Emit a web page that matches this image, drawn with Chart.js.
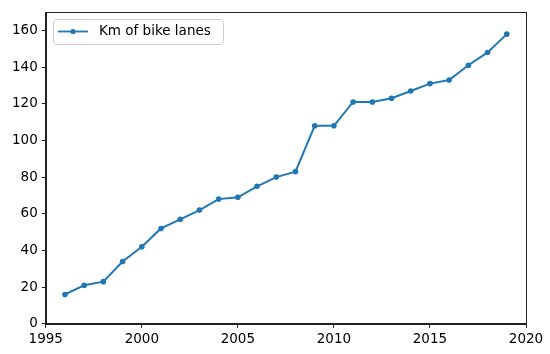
<!DOCTYPE html>
<html><head><meta charset="utf-8">
<script src="https://cdn.jsdelivr.net/npm/chart.js@4/dist/chart.umd.min.js"></script>
<style>html,body{margin:0;padding:0;background:#fff}canvas{display:block}</style>
</head><body>
<canvas id="c" width="550" height="354"></canvas>
<script>
const years = [1996,1997,1998,1999,2000,2001,2002,2003,2004,2005,2006,2007,2008,2009,2010,2011,2012,2013,2014,2015,2016,2017,2018,2019];
const kmBikeLanes = [16,21,23,34,42,52,57,62,68,69,75,80,83,108,108,121,121,123,127,131,133,141,148,158];
const seriesLabel = 'Km of bike lanes';
const xTicks = [1995,2000,2005,2010,2015,2020];
const yTicks = [0,20,40,60,80,100,120,140,160];

const FONT = "'DejaVu Sans', sans-serif";
const BLUE = '#1f77b4';

const framePlugin = {
  id: 'frame',
  afterDraw(chart) {
    const {ctx, chartArea: a} = chart;
    ctx.save();
    ctx.strokeStyle = '#222';
    ctx.lineWidth = 1;
    ctx.strokeRect(Math.round(a.left)+0.5, Math.round(a.top)+0.5, Math.round(a.right-a.left), Math.round(a.bottom-a.top));
    // legend inside
    const x0 = Math.round(a.left) + 7, y0 = Math.round(a.top) + 7;
    ctx.font = '13.5px ' + FONT;
    const w = 170, h = 25;
    ctx.fillStyle = 'rgba(255,255,255,0.8)';
    ctx.strokeStyle = '#cccccc';
    ctx.beginPath();
    if (ctx.roundRect) ctx.roundRect(x0+0.5, y0+0.5, w, h, 3); else ctx.rect(x0+0.5,y0+0.5,w,h);
    ctx.fill(); ctx.stroke();
    const ly = y0 + 12.5;
    ctx.strokeStyle = BLUE; ctx.lineWidth = 1.8;
    ctx.beginPath(); ctx.moveTo(x0+5, ly); ctx.lineTo(x0+35, ly); ctx.stroke();
    ctx.fillStyle = BLUE;
    ctx.beginPath(); ctx.arc(x0+20, ly, 2.6, 0, Math.PI*2); ctx.fill();
    ctx.fillStyle = '#000';
    ctx.textBaseline = 'middle';
    ctx.fillText(seriesLabel, x0+46, ly);
    ctx.restore();
  }
};

new Chart(document.getElementById('c'), {
  type: 'line',
  data: {
    datasets: [{
      label: seriesLabel,
      data: years.map((y,i)=>({x:y, y:kmBikeLanes[i]})),
      borderColor: BLUE,
      backgroundColor: BLUE,
      borderWidth: 2,
      pointRadius: 2.8,
      pointBorderWidth: 0,
      tension: 0
    }]
  },
  options: {
    responsive: false,
    animation: false,
    layout: {padding: {left: 8, right: 24, top: 10, bottom: 2}},
    plugins: {legend: {display: false}, tooltip: {enabled: false}},
    scales: {
      x: {
        type: 'linear', min: 1995, max: 2020,
        afterBuildTicks: s => { s.ticks = xTicks.map(v=>({value:v})); },
        ticks: {color:'#000', font:{family:FONT,size:13.5}, padding:4, maxRotation:0, callback: v => String(v)},
        grid: {drawOnChartArea:false, color:'#222', tickLength:4, tickWidth:1},
        border: {color:'#222', width:1}
      },
      y: {
        min: 0, max: 170,
        afterBuildTicks: s => { s.ticks = yTicks.map(v=>({value:v})); },
        ticks: {color:'#000', font:{family:FONT,size:13.5}, padding:4},
        grid: {drawOnChartArea:false, color:'#222', tickLength:4, tickWidth:1},
        border: {color:'#222', width:1}
      }
    }
  },
  plugins: [framePlugin]
});
</script>
</body></html>
